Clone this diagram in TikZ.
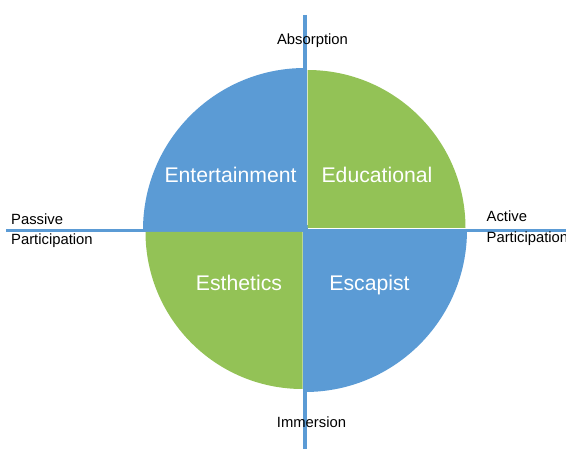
\documentclass[tikz,border=0pt]{standalone}
\usepackage{fontspec}
\setmainfont{Liberation Sans}
\definecolor{qblue}{HTML}{5B9BD5}
\definecolor{qgreen}{HTML}{93C256}
\tikzset{
  axis/.style={draw=qblue, line width=3.8pt},
  small/.style={inner sep=0pt, font=\fontsize{14.8}{17}\selectfont, text=black},
  big/.style={inner sep=0pt, font=\fontsize{21.2}{25}\selectfont, text=white, anchor=base},
}
\begin{document}
\begin{tikzpicture}[x=1pt,y=1pt]
\useasboundingbox (0,0) rectangle (566,448);
% axes
\coordinate (vtop) at (305,433);
\coordinate (vbot) at (305,-2);
\coordinate (hl) at (6,217.5);
\coordinate (hr) at (568,217.5);
\draw[axis] (vtop) -- (vbot);
\draw[axis] (hl) -- (hr);
% quadrants
\coordinate (c) at (305,218);
\coordinate (cg1) at (307.5,220);
\coordinate (cg2) at (302.5,216);
\fill[qblue] (c) -- ++(90:162) arc[start angle=90,end angle=180,radius=162] -- cycle;
\fill[qblue] (c) -- ++(270:162) arc[start angle=270,end angle=360,radius=162] -- cycle;
\fill[qblue] (302.5,213) rectangle (307.5,223);
\fill[qgreen] (cg1) -- ++(0:158) arc[start angle=0,end angle=90,radius=158] -- cycle;
\fill[qgreen] (cg2) -- ++(180:157) arc[start angle=180,end angle=270,radius=157] -- cycle;
% quadrant labels
\node[big] (ent) at (230.5,265) {Entertainment};
\node[big] (edu) at (377,265) {Educational};
\node[big] (est) at (239,157) {Esthetics};
\node[big] (esc) at (369.5,157) {Escapist};
% axis labels
\node[small, anchor=base] (abs) at (312.5,403.5) {Absorption};
\node[small, anchor=base] (imm) at (311.5,20.5) {Immersion};
\node[small, anchor=base west] (pas1) at (11,223) {Passive};
\node[small, anchor=base west] (pas2) at (11,203) {Participation};
\node[small, anchor=base west] (act1) at (486.5,226.3) {Active};
\node[small, anchor=base west] (act2) at (486.5,205.3) {Participation};
\end{tikzpicture}
\end{document}
